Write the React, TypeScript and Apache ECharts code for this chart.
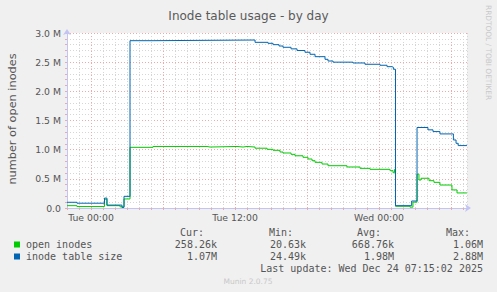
import React, { useEffect, useRef } from "react";
import * as echarts from "echarts";

// time in hours relative to Tue 00:00, values in millions
const openInodes: [number, number][] = [
  [-2, 0.04], [-1.17, 0.025], [1.125, 0.15], [1.33, 0.04], [2.42, 0.02], [2.75, 0.155],
  [3.25, 1.04], [5.17, 1.055], [9.67, 1.045], [9.92, 1.055], [12.17, 1.045], [12.67, 1.055],
  [13.0, 1.045], [13.67, 1.025], [14.67, 1.006], [15.17, 0.989], [15.75, 0.96], [16.0, 0.943],
  [16.67, 0.92], [17.0, 0.895], [17.67, 0.869], [18.08, 0.84], [18.42, 0.811], [18.67, 0.783],
  [19.25, 0.754], [19.75, 0.725], [21.33, 0.703], [22.42, 0.68], [23.25, 0.663], [24.92, 0.64],
  [25.17, 0.605], [25.29, 0.66], [25.375, 0.03], [26.58, 0.015], [26.83, 0.1], [27.17, 0.58],
  [27.33, 0.48], [27.5, 0.51], [28.17, 0.468], [28.58, 0.44], [29.08, 0.394], [30.08, 0.31],
  [30.5, 0.258], [31.33, 0.258],
];

const inodeTableSize: [number, number][] = [
  [-2, 0.098], [-1.17, 0.082], [1.125, 0.17], [1.33, 0.05], [2.58, 0.01], [2.75, 0.2],
  [3.25, 2.868], [5.17, 2.88], [13.67, 2.84], [14.75, 2.823], [15.17, 2.8], [15.67, 2.777],
  [16.0, 2.755], [16.67, 2.728], [17.17, 2.7], [17.83, 2.67], [18.25, 2.635], [18.67, 2.594],
  [19.5, 2.549], [19.75, 2.52], [20.17, 2.5], [21.83, 2.486], [22.83, 2.464], [24.08, 2.447],
  [24.67, 2.423], [25.08, 2.413], [25.2, 2.378], [25.375, 0.04], [26.72, 0.12], [27.17, 1.38],
  [28.08, 1.34], [28.5, 1.31], [29.08, 1.27], [30.2, 1.166], [30.42, 1.109], [30.6, 1.07],
  [31.33, 1.07],
];

const xTickLabels: Record<number, string> = { 0: "Tue 00:00", 12: "Tue 12:00", 24: "Wed 00:00" };

const legendNames = ["open inodes", "inode table size"];
const legendColors = ["#00cc00", "#0066b3"];
const statHeaders = ["Cur:", "Min:", "Avg:", "Max:"];
const statValues = [
  ["258.26k", "20.63k", "668.76k", "1.06M"],
  ["1.07M", "24.49k", "1.98M", "2.88M"],
];
const lastUpdate = "Last update: Wed Dec 24 07:15:02 2025";
const titleText = "Inode table usage - by day";
const yAxisTitle = "number of open inodes";

export default function App() {
  const ref = useRef<HTMLDivElement>(null);
  useEffect(() => {
    const chart = echarts.init(ref.current!, null, { renderer: "svg" });
    const gray = "#d6d6d6";
    const red = "#f2a8a8";
    const mono = "DejaVu Sans Mono";
    const sans = "DejaVu Sans";
    const txtColor = "#555555";
    const colX = [204, 293, 381, 470];
    const valX = [217, 306, 394, 483];
    const rowY = [244.5, 256.5];
    const graphics: any[] = [
      {
        type: "text", x: 12, y: 119, rotation: Math.PI / 2,
        style: { text: yAxisTitle, font: `11.3px ${sans}`, fill: txtColor, align: "center", verticalAlign: "middle" },
      },
      {
        type: "text", x: 488, y: 5, rotation: -Math.PI / 2,
        style: { text: "RRDTOOL / TOBI OETIKER", font: `7.4px ${sans}`, fill: "#c8c8c8", align: "left", verticalAlign: "middle" },
      },
      {
        type: "text", x: 248, y: 281,
        style: { text: "Munin 2.0.75", font: `7.5px ${sans}`, fill: "#c8c8c8", align: "center", verticalAlign: "middle" },
      },
      {
        type: "text", x: 483, y: 268.7,
        style: { text: lastUpdate, font: `10px ${mono}`, fill: txtColor, align: "right", verticalAlign: "middle" },
      },
    ];
    statHeaders.forEach((h, i) => {
      graphics.push({
        type: "text", x: colX[i], y: 232.7,
        style: { text: h, font: `10px ${mono}`, fill: txtColor, align: "right", verticalAlign: "middle" },
      });
    });
    legendNames.forEach((n, r) => {
      graphics.push({ type: "rect", shape: { x: 14, y: rowY[r] - 3, width: 6, height: 6 }, style: { fill: legendColors[r] } });
      graphics.push({
        type: "text", x: 26, y: rowY[r],
        style: { text: n, font: `10px ${mono}`, fill: txtColor, align: "left", verticalAlign: "middle" },
      });
      statValues[r].forEach((v, i) => {
        graphics.push({
          type: "text", x: valX[i], y: rowY[r],
          style: { text: v, font: `10px ${mono}`, fill: txtColor, align: "right", verticalAlign: "middle" },
        });
      });
    });

    chart.setOption({
      animation: false,
      backgroundColor: "#f0f0f0",
      title: {
        text: titleText, left: "center", top: 5,
        textStyle: { fontFamily: sans, fontSize: 12, fontWeight: "normal", color: "#5a5a5a" },
      },
      grid: { left: 67, top: 33, width: 400, height: 175, show: true, backgroundColor: "#ffffff", borderWidth: 0 },
      xAxis: {
        type: "value", min: -2, max: 31.333, interval: 1,
        axisLine: { show: true, onZero: false, lineStyle: { color: "#c4c4f4", width: 1 }, symbol: ["none", "arrow"], symbolSize: [6, 6], symbolOffset: [0, 4] },
        axisTick: { show: true, length: 2, interval: 0, lineStyle: { color: "#e0b0b0" } },
        axisLabel: {
          interval: 0, margin: 5, color: txtColor, fontFamily: sans, fontSize: 9.3,
          showMinLabel: true, showMaxLabel: false,
          formatter: (v: number) => xTickLabels[Math.round(v)] ?? "",
        },
        splitLine: { show: true, lineStyle: { color: [gray, gray, red, gray, gray, gray], type: [1, 2], width: 1 } },
      },
      yAxis: {
        type: "value", min: 0, max: 3, interval: 0.1,
        axisLine: { show: true, onZero: false, lineStyle: { color: "#c4c4f4", width: 1 }, symbol: ["none", "arrow"], symbolSize: [6, 6], symbolOffset: [0, 4] },
        axisTick: { show: true, length: 2, lineStyle: { color: "#e0b0b0" } },
        axisLabel: {
          margin: 6, color: txtColor, fontFamily: sans, fontSize: 9.3,
          formatter: (v: number) => {
            const t = Math.round(v * 10);
            if (t % 5 !== 0) return "";
            if (t === 0) return "0.0";
            return (t / 10).toFixed(1) + " M";
          },
        },
        splitLine: { show: true, lineStyle: { color: [red, gray, gray, gray, gray], type: [1, 2], width: 1 } },
      },
      series: [
        {
          name: legendNames[0], type: "line", step: "end", data: openInodes, showSymbol: false,
          lineStyle: { color: legendColors[0], width: 1 }, itemStyle: { color: legendColors[0] },
        },
        {
          name: legendNames[1], type: "line", step: "end", data: inodeTableSize, showSymbol: false,
          lineStyle: { color: legendColors[1], width: 1 }, itemStyle: { color: legendColors[1] },
        },
      ],
      graphic: graphics,
    });
    return () => chart.dispose();
  }, []);
  return <div ref={ref} style={{ position: "fixed", left: 0, top: 0, width: 497, height: 292 }} />;
}
